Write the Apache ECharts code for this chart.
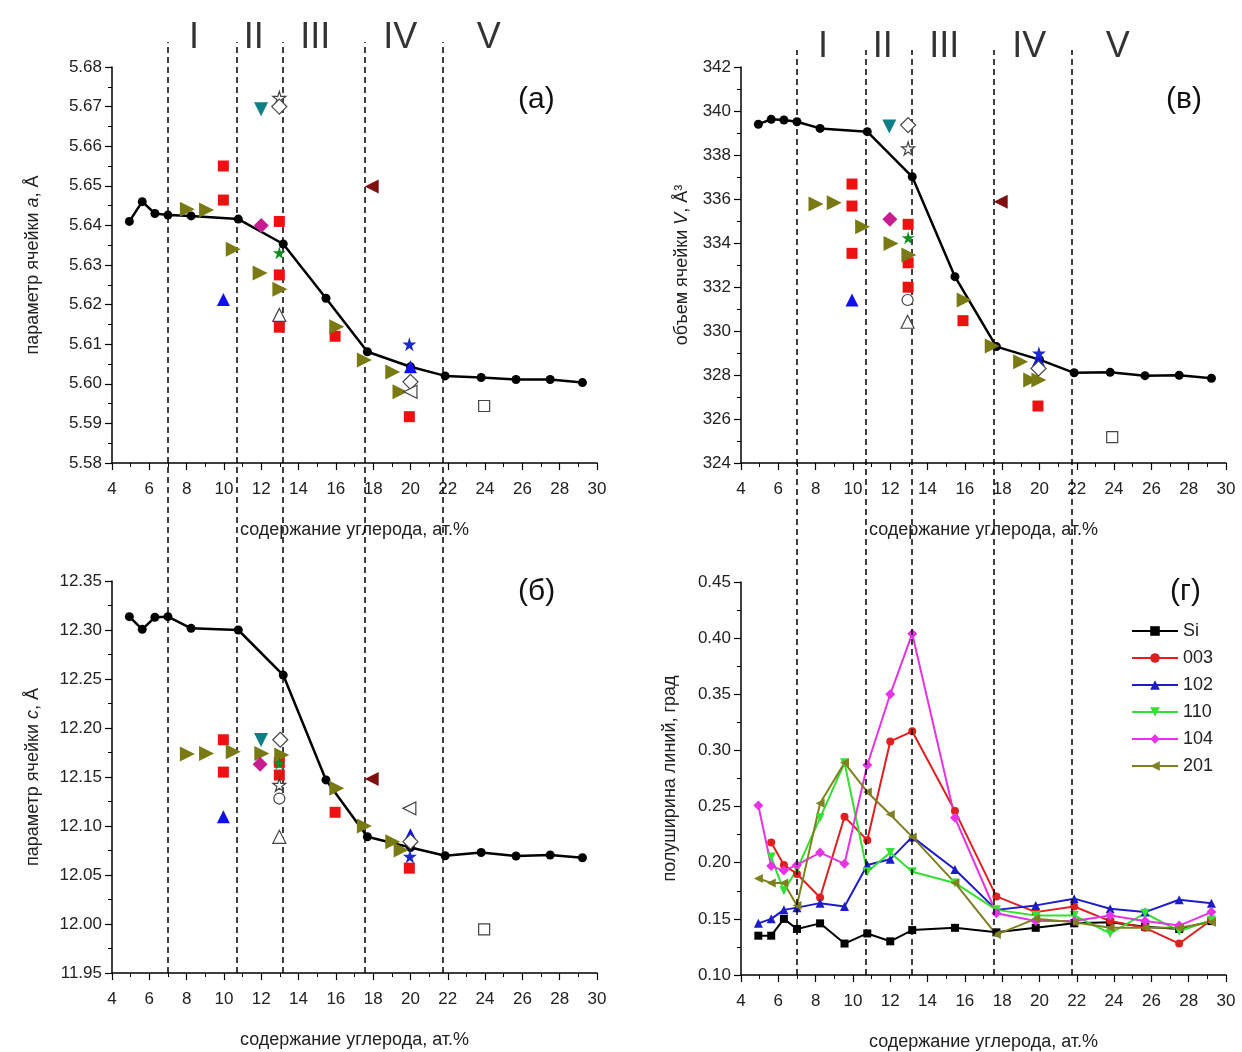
<!DOCTYPE html>
<html>
<head>
<meta charset="utf-8">
<script src="https://cdn.jsdelivr.net/npm/echarts@6/dist/echarts.min.js"></script>
<style>
  html, body { margin: 0; padding: 0; background: #fff; }
  #main { width: 1242px; height: 1052px; }
</style>
</head>
<body>
<div id="main"></div>
<script>
// основная кривая (черная) для панелей а, б, в
var xMain = [4.93, 5.62, 6.3, 7.0, 8.24, 10.77, 13.18, 15.47, 17.69, 20.0, 21.86, 23.79, 25.66, 27.49, 29.22];
var aMain = [5.641, 5.646, 5.643, 5.6426, 5.6424, 5.6416, 5.6353, 5.6216, 5.6081, 5.6043, 5.602, 5.6016, 5.6011, 5.6011, 5.6003];
var vMain = [339.4, 339.62, 339.59, 339.51, 339.21, 339.06, 337.01, 332.47, 329.29, 328.7, 328.1, 328.12, 327.97, 327.99, 327.85];
var cMain = [12.3136, 12.3007, 12.313, 12.3136, 12.3017, 12.30, 12.254, 12.147, 12.089, 12.078, 12.0697, 12.073, 12.0694, 12.0704, 12.0676];

// литературные данные (отдельные точки) - [x, y]
var redSquareA = [[9.97, 5.655], [9.97, 5.6464], [12.97, 5.641], [12.97, 5.6275], [12.97, 5.6143], [15.96, 5.612], [19.94, 5.5917]];
var redSquareV = [[9.95, 336.68], [9.95, 335.68], [9.95, 333.53], [12.96, 334.85], [12.96, 333.1], [12.96, 331.99], [15.9, 330.47], [19.92, 326.59]];
var redSquareC = [[9.97, 12.188], [9.97, 12.155], [12.97, 12.165], [12.97, 12.152], [15.96, 12.114], [19.94, 12.057]];

var oliveA = [[8.04, 5.6441], [9.07, 5.6439], [10.5, 5.634], [11.94, 5.628], [13.0, 5.6239], [16.05, 5.6144], [17.53, 5.606], [19.05, 5.603], [19.44, 5.598]];
var oliveV = [[8.02, 335.77], [9.0, 335.83], [10.52, 334.74], [12.04, 333.98], [13.0, 333.45], [15.96, 331.41], [17.47, 329.32], [18.99, 328.6], [19.53, 327.77], [19.97, 327.77]];
var oliveC = [[8.04, 12.1735], [9.07, 12.174], [10.5, 12.1758], [12.03, 12.174], [13.1, 12.1724], [16.05, 12.1385], [17.53, 12.1], [19.05, 12.084], [19.5, 12.0755]];

var tealA = [[11.99, 5.6693]], tealV = [[11.95, 339.29]], tealC = [[11.99, 12.1878]];
var openStarA = [[12.97, 5.6722]], openStarV = [[12.96, 338.3]], openStarC = [[12.97, 12.142]];
var openDiamA = [[12.97, 5.670], [20.0, 5.6005]], openDiamV = [[12.96, 339.36], [19.95, 328.3]], openDiamC = [[13.02, 12.188], [20.0, 12.084]];
var magentaA = [[12.0, 5.640]], magentaV = [[11.98, 335.08]], magentaC = [[11.94, 12.163]];
var greenStarA = [[12.97, 5.6331]], greenStarV = [[12.96, 334.24]], greenStarC = [[12.97, 12.164]];
var blueTriA = [[9.97, 5.6213], [20.0, 5.6043]], blueTriV = [[9.95, 331.41], [19.95, 328.68]], blueTriC = [[9.97, 12.1095], [20.0, 12.091]];
var openTriA = [[12.97, 5.6174]], openTriV = [[12.93, 330.42]], openTriC = [[12.97, 12.089]];
var openCircleV = [[12.93, 331.41]], openCircleC = [[12.97, 12.128]];
var darkRedA = [[17.92, 5.6498]], darkRedV = [[17.92, 335.88]], darkRedC = [[17.92, 12.148]];
var blueStarA = [[19.94, 5.610]], blueStarV = [[19.97, 328.99]], blueStarC = [[19.97, 12.069]];
var openLeftA = [[20.0, 5.598]], openLeftC = [[19.94, 12.118]];
var openSquareA = [[23.95, 5.5944]], openSquareV = [[23.9, 325.18]], openSquareC = [[23.95, 11.9946]];

// панель г - полуширина линий
var xWidth = [4.93, 5.62, 6.3, 7.0, 8.24, 9.55, 10.77, 12.0, 13.18, 15.47, 17.69, 19.8, 21.86, 23.79, 25.66, 27.49, 29.22];
var wSi  = [0.135, 0.135, 0.150, 0.141, 0.146, 0.128, 0.137, 0.130, 0.140, 0.142, 0.138, 0.142, 0.146, 0.147, 0.143, 0.141, 0.148];
var w003 = [null, 0.218, 0.198, 0.190, 0.169, 0.241, 0.220, 0.308, 0.317, 0.246, 0.170, 0.156, 0.161, 0.148, 0.142, 0.128, 0.149];
var w102 = [0.146, 0.150, 0.158, 0.160, 0.164, 0.161, 0.198, 0.203, 0.223, 0.194, 0.158, 0.162, 0.168, 0.159, 0.156, 0.167, 0.164];
var w110 = [null, 0.205, 0.175, 0.194, 0.240, 0.289, 0.192, 0.209, 0.192, 0.182, 0.158, 0.153, 0.153, 0.137, 0.155, 0.139, 0.149];
var w104 = [0.251, 0.197, 0.193, 0.198, 0.209, 0.199, 0.287, 0.350, 0.404, 0.240, 0.155, 0.148, 0.148, 0.153, 0.148, 0.144, 0.156];
var w201 = [0.186, 0.182, 0.182, 0.162, 0.253, 0.289, 0.263, 0.243, 0.223, 0.182, 0.136, 0.150, 0.147, 0.142, 0.142, 0.142, 0.147];

// границы областей I-V
var regionBorders = [6.97, 10.68, 13.15, 17.57, 21.75];
var regionNames = ['I', 'II', 'III', 'IV', 'V'];
var regionCenters = [8.4, 11.6, 14.9, 19.45, 24.2];

var xTitle = 'содержание углерода, ат.%';
var FONT = 'Liberation Sans, Arial, sans-serif';
var STAR = 'path://M50,0 L61,35 L98,35 L68,57 L79,91 L50,70 L21,91 L32,57 L2,35 L39,35 Z';

function zip(xs, ys) {
    var out = [];
    for (var i = 0; i < xs.length; i++) out.push([xs[i], ys[i]]);
    return out;
}

function xAx(gi) {
    return {
        gridIndex: gi, type: 'value', min: 4, max: 30, interval: 2,
        name: xTitle, nameLocation: 'middle', nameGap: 58,
        nameTextStyle: { fontSize: 18, color: '#222', fontFamily: FONT },
        axisLine: { lineStyle: { color: '#000', width: 1.5 } },
        axisTick: { length: 7, lineStyle: { color: '#000', width: 1.2 } },
        minorTick: { show: true, splitNumber: 2, length: 4, lineStyle: { color: '#000' } },
        axisLabel: { fontSize: 17, color: '#222', margin: 18, fontFamily: FONT },
        splitLine: { show: false }
    };
}

function yAx(gi, min, max, interval, name, digits, gap) {
    return {
        gridIndex: gi, type: 'value', min: min, max: max, interval: interval,
        name: name, nameLocation: 'middle', nameGap: gap,
        nameTextStyle: { fontSize: 18, color: '#222', fontFamily: FONT,
            rich: { i: { fontStyle: 'italic', fontSize: 18, color: '#222', fontFamily: FONT } } },
        axisLine: { show: true, lineStyle: { color: '#000', width: 1.5 } },
        axisTick: { show: true, length: 7, lineStyle: { color: '#000', width: 1.2 } },
        minorTick: { show: true, splitNumber: 2, length: 4, lineStyle: { color: '#000' } },
        axisLabel: { fontSize: 17, color: '#222', margin: 10, fontFamily: FONT,
            formatter: function (v) { return v.toFixed(digits); } },
        splitLine: { show: false }
    };
}

function sc(data, gi, symbol, size, color, rotate, open) {
    return {
        type: 'scatter', xAxisIndex: gi, yAxisIndex: gi, data: data,
        symbol: symbol, symbolSize: size, symbolRotate: rotate || 0, z: 5,
        itemStyle: open ? { color: '#fff', borderColor: '#444', borderWidth: 1.2, opacity: 1 }
                        : { color: color, opacity: 1 }
    };
}

function mainLine(data, gi) {
    return {
        type: 'line', xAxisIndex: gi, yAxisIndex: gi, data: data,
        symbol: 'circle', symbolSize: 9, z: 3,
        lineStyle: { color: '#000', width: 2.5 }, itemStyle: { color: '#000' }
    };
}

function points(gi, s) {
    // s: набор точек для панели
    var list = [];
    if (s.red) list.push(sc(s.red, gi, 'rect', 11, '#ee1111'));
    if (s.olive) list.push(sc(s.olive, gi, 'triangle', 15, '#7a7a14', -90));
    if (s.teal) list.push(sc(s.teal, gi, 'triangle', 14, '#0e7f86', 180));
    if (s.magenta) list.push(sc(s.magenta, gi, 'diamond', 15, '#c81d91'));
    if (s.greenStar) list.push(sc(s.greenStar, gi, STAR, 13, '#0f8f1f'));
    if (s.blueTri) list.push(sc(s.blueTri, gi, 'triangle', 13, '#1010ee'));
    if (s.darkRed) list.push(sc(s.darkRed, gi, 'triangle', 14, '#801010', 90));
    if (s.blueStar) list.push(sc(s.blueStar, gi, STAR, 14, '#1a2acc'));
    if (s.openStar) list.push(sc(s.openStar, gi, STAR, 13, null, 0, true));
    if (s.openDiam) list.push(sc(s.openDiam, gi, 'diamond', 15, null, 0, true));
    if (s.openTri) list.push(sc(s.openTri, gi, 'triangle', 13, null, 0, true));
    if (s.openCircle) list.push(sc(s.openCircle, gi, 'circle', 11, null, 0, true));
    if (s.openLeft) list.push(sc(s.openLeft, gi, 'triangle', 13, null, 90, true));
    if (s.openSquare) list.push(sc(s.openSquare, gi, 'rect', 11, null, 0, true));
    return list;
}

function widthLine(name, ys, color, symbol, rotate, size) {
    return {
        name: name, type: 'line', xAxisIndex: 3, yAxisIndex: 3, data: zip(xWidth, ys),
        symbol: symbol, symbolSize: size, symbolRotate: rotate || 0, connectNulls: false,
        lineStyle: { color: color, width: 2 }, itemStyle: { color: color }
    };
}

function dashSeries(gi, topVal) {
    return {
        type: 'line', xAxisIndex: gi, yAxisIndex: gi, data: [], silent: true,
        markLine: {
            silent: true, symbol: ['none', 'none'], label: { show: false },
            lineStyle: { color: '#000', width: 1.5, type: [6, 4] },
            data: regionBorders.map(function (x) {
                return [{ coord: [x, 0] }, { coord: [x, topVal] }];
            })
        }
    };
}

function romanSeries(gi, yVal) {
    return {
        type: 'scatter', xAxisIndex: gi, yAxisIndex: gi, symbolSize: 1, silent: true,
        itemStyle: { color: 'rgba(0,0,0,0)' },
        label: { show: true, position: 'inside', fontSize: 36, color: '#000', fontFamily: FONT,
            formatter: function (p) { return p.name; } },
        data: regionNames.map(function (n, i) { return { name: n, value: [regionCenters[i], yVal] }; })
    };
}

var chart = echarts.init(document.getElementById('main'));

var option = {
    animation: false,
    backgroundColor: '#fff',
    textStyle: { fontFamily: FONT },
    grid: [
        { left: 112, top: 67, width: 485, height: 396 },
        { left: 741, top: 67, width: 485, height: 396 },
        { left: 112, top: 581, width: 485, height: 392 },
        { left: 741, top: 582, width: 485, height: 393 },
        { left: 112, top: 10, width: 485, height: 963 },
        { left: 741, top: 10, width: 485, height: 965 }
    ],
    xAxis: [xAx(0), xAx(1), xAx(2), xAx(3),
        { gridIndex: 4, type: 'value', min: 4, max: 30, show: false },
        { gridIndex: 5, type: 'value', min: 4, max: 30, show: false }],
    yAxis: [
        yAx(0, 5.58, 5.68, 0.01, 'параметр ячейки {i|a}, Å', 2, 70),
        yAx(1, 324, 342, 2, 'объем ячейки {i|V}, Å³', 0, 50),
        yAx(2, 11.95, 12.35, 0.05, 'параметр ячейки {i|c}, Å', 2, 70),
        yAx(3, 0.10, 0.45, 0.05, 'полуширина линий, град', 2, 62),
        { gridIndex: 4, type: 'value', min: 0, max: 963, show: false },
        { gridIndex: 5, type: 'value', min: 0, max: 965, show: false }
    ],
    legend: {
        data: ['Si', '003', '102', '110', '104', '201'],
        orient: 'vertical', left: 1126, top: 617,
        itemWidth: 46, itemHeight: 12, itemGap: 9,
        textStyle: { fontSize: 18, color: '#222', fontFamily: FONT }
    },
    graphic: [
        { type: 'text', left: 518, top: 85, style: { text: '(а)', fontSize: 30, fill: '#111', fontFamily: FONT } },
        { type: 'text', left: 1166, top: 85, style: { text: '(в)', fontSize: 30, fill: '#111', fontFamily: FONT } },
        { type: 'text', left: 518, top: 577, style: { text: '(б)', fontSize: 30, fill: '#111', fontFamily: FONT } },
        { type: 'text', left: 1170, top: 577, style: { text: '(г)', fontSize: 30, fill: '#111', fontFamily: FONT } }
    ],
    series: [].concat(
        [mainLine(zip(xMain, aMain), 0), mainLine(zip(xMain, vMain), 1), mainLine(zip(xMain, cMain), 2)],
        points(0, { red: redSquareA, olive: oliveA, teal: tealA, magenta: magentaA, greenStar: greenStarA,
            blueTri: blueTriA, darkRed: darkRedA, blueStar: blueStarA, openStar: openStarA, openDiam: openDiamA,
            openTri: openTriA, openLeft: openLeftA, openSquare: openSquareA }),
        points(1, { red: redSquareV, olive: oliveV, teal: tealV, magenta: magentaV, greenStar: greenStarV,
            blueTri: blueTriV, darkRed: darkRedV, blueStar: blueStarV, openStar: openStarV, openDiam: openDiamV,
            openTri: openTriV, openCircle: openCircleV, openSquare: openSquareV }),
        points(2, { red: redSquareC, olive: oliveC, teal: tealC, magenta: magentaC, greenStar: greenStarC,
            blueTri: blueTriC, darkRed: darkRedC, blueStar: blueStarC, openStar: openStarC, openDiam: openDiamC,
            openTri: openTriC, openCircle: openCircleC, openLeft: openLeftC, openSquare: openSquareC }),
        [
            widthLine('Si', wSi, '#000', 'rect', 0, 8),
            widthLine('003', w003, '#e02020', 'circle', 0, 8),
            widthLine('102', w102, '#1c1cc8', 'triangle', 0, 9),
            widthLine('110', w110, '#33e033', 'triangle', 180, 9),
            widthLine('104', w104, '#e633e6', 'diamond', 0, 10),
            widthLine('201', w201, '#808020', 'triangle', 90, 9)
        ],
        [dashSeries(4, 931), dashSeries(5, 925), romanSeries(4, 935), romanSeries(5, 928)]
    )
};

chart.setOption(option);
</script>
</body>
</html>
